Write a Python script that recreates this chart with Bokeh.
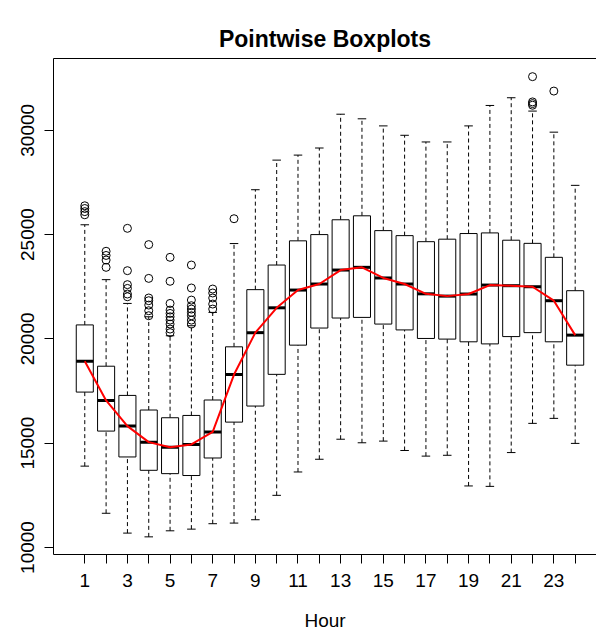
from bokeh.plotting import figure
from bokeh.models import Range1d, FixedTicker, LinearAxis, Title
from bokeh.embed import file_html
from bokeh.resources import INLINE

hours = list(range(1, 25))
lower_whisker = [13900, 11640, 10690, 10510, 10800, 10880, 11140, 11170, 11330, 12500, 13620, 14230,
                 15190, 15020, 15100, 14650, 14380, 14420, 12950, 12930, 14550, 15950, 16190, 14990]
q1 = [17450, 15580, 14340, 13700, 13540, 13450, 14290, 16010, 16780, 18300, 19700, 20520,
      21000, 21030, 20710, 20430, 20020, 19990, 19860, 19760, 20110, 20300, 19860, 18740]
median = [18930, 17050, 15820, 15050, 14810, 14940, 15540, 18290, 20300, 21490, 22340, 22630,
          23300, 23430, 22920, 22630, 22160, 22050, 22150, 22580, 22550, 22500, 21830, 20180]
q3 = [20670, 18690, 17290, 16590, 16220, 16330, 17070, 19620, 22360, 23540, 24700, 25000,
      25710, 25900, 25190, 24950, 24660, 24780, 25050, 25080, 24730, 24580, 23910, 22310]
upper_whisker = [25470, 22840, 21700, 21060, 20150, 20630, 21270, 24570, 27150, 28570, 28810, 29150,
                 30770, 30550, 30210, 29760, 29440, 29440, 30210, 31190, 31560, 30920, 29910, 27360]
red_curve = median

outlier_hours = [1, 1, 1, 1,
                 2, 2, 2, 2,
                 3, 3, 3, 3, 3, 3,
                 4, 4, 4, 4, 4, 4, 4,
                 5, 5, 5, 5, 5, 5, 5, 5, 5, 5,
                 6, 6, 6, 6, 6, 6, 6, 6, 6,
                 7, 7, 7, 7, 7,
                 8,
                 22, 22, 22, 22,
                 23]
outlier_values = [26380, 26250, 26100, 25950,
                  24200, 24000, 23780, 23430,
                  25300, 23270, 22600, 22420, 22150, 22020,
                  24520, 22900, 21960, 21830, 21620, 21350, 21110,
                  23910, 22760, 21700, 21380, 21220, 21060, 20900, 20710, 20470, 20300,
                  23540, 22440, 21860, 21590, 21430, 21270, 21110, 20900, 20710,
                  22390, 22200, 21960, 21670, 21430,
                  25760,
                  32570, 31360, 31280, 31200,
                  31880]

x_ticks = hours
x_tick_labels = {h: (str(h) if h % 2 == 1 else "") for h in hours}
y_ticks = [10000, 15000, 20000, 25000, 30000]

FONT = "Liberation Sans"
box_w = 0.8
cap_w = 0.4

p = figure(width=596, height=635, output_backend="svg", toolbar_location=None,
           x_range=Range1d(-0.467, 25.0), y_range=Range1d(9664, 33441),
           min_border_left=53, min_border_right=0, min_border_top=58, min_border_bottom=81,
           x_axis_location=None, y_axis_location=None)
p.outline_line_color = None
p.grid.visible = False
p.background_fill_color = "white"
p.border_fill_color = "white"

# bottom axis
xa = LinearAxis(ticker=FixedTicker(ticks=x_ticks), major_label_overrides=x_tick_labels,
                axis_label="Hour")
xa.major_tick_out = 9
xa.major_tick_in = 0
xa.minor_tick_line_color = None
xa.major_label_text_font = FONT
xa.major_label_text_font_size = "19px"
xa.major_label_text_color = "black"
xa.major_label_standoff = 10
xa.axis_label_text_font = FONT
xa.axis_label_text_font_size = "19px"
xa.axis_label_text_font_style = "normal"
xa.axis_label_text_color = "black"
xa.axis_label_standoff = 20
xa.axis_line_color = "black"
xa.major_tick_line_color = "black"
p.add_layout(xa, "below")

# left axis
ya = LinearAxis(ticker=FixedTicker(ticks=y_ticks))
ya.major_tick_out = 9
ya.major_tick_in = 0
ya.minor_tick_line_color = None
ya.major_label_orientation = "vertical"
ya.major_label_text_font = FONT
ya.major_label_text_font_size = "19px"
ya.major_label_text_color = "black"
ya.major_label_standoff = 10
ya.axis_line_color = "black"
ya.major_tick_line_color = "black"
p.add_layout(ya, "left")

# top frame line
ta = LinearAxis(ticker=FixedTicker(ticks=[]))
ta.major_tick_line_color = None
ta.minor_tick_line_color = None
ta.major_label_text_font_size = "0px"
ta.axis_line_color = "black"
p.add_layout(ta, "above")

p.title = Title(text="Pointwise Boxplots", align="center", text_font=FONT, text_color="black",
                text_font_size="23px", text_font_style="bold", offset=5, standoff=14)

# whiskers
p.segment(x0=hours, y0=q3, x1=hours, y1=upper_whisker, line_color="black", line_width=1, line_dash="4 3")
p.segment(x0=hours, y0=lower_whisker, x1=hours, y1=q1, line_color="black", line_width=1, line_dash="4 3")
p.segment(x0=[h - cap_w / 2 for h in hours], y0=upper_whisker, x1=[h + cap_w / 2 for h in hours],
          y1=upper_whisker, line_color="black", line_width=1)
p.segment(x0=[h - cap_w / 2 for h in hours], y0=lower_whisker, x1=[h + cap_w / 2 for h in hours],
          y1=lower_whisker, line_color="black", line_width=1)
# boxes
p.quad(left=[h - box_w / 2 for h in hours], right=[h + box_w / 2 for h in hours], bottom=q1, top=q3,
       fill_color="white", line_color="black", line_width=1)
# medians
p.segment(x0=[h - box_w / 2 for h in hours], y0=median, x1=[h + box_w / 2 for h in hours], y1=median,
          line_color="black", line_width=3)
# outliers
p.scatter(outlier_hours, outlier_values, marker="circle", size=8, fill_color=None,
          line_color="black", line_width=1)
# red curve
p.line(hours, red_curve, line_color="red", line_width=2)

open("out.html", "w").write(file_html(p, INLINE))
